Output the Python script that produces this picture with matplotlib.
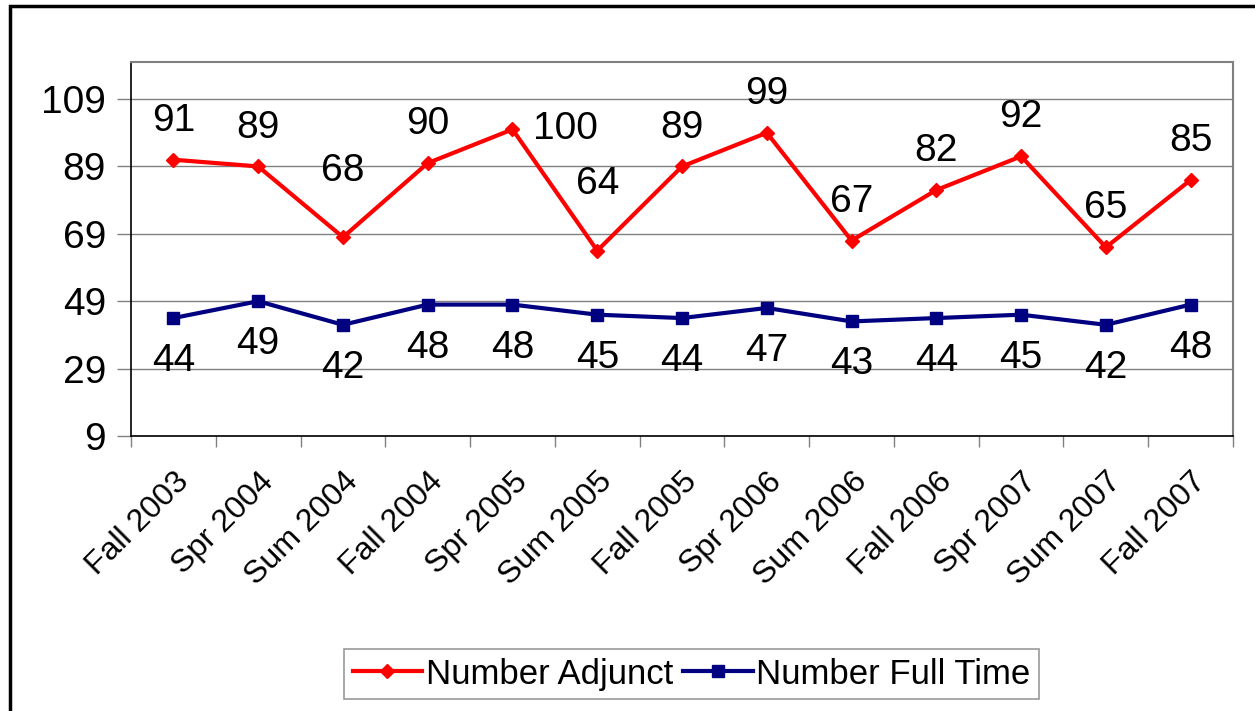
import matplotlib.pyplot as plt
import matplotlib.transforms as mtransforms
from matplotlib.patches import Rectangle

plt.rcParams['font.family'] = ['Liberation Sans', 'DejaVu Sans']

# terms and counts
terms = ['Fall 2003', 'Spr 2004', 'Sum 2004', 'Fall 2004', 'Spr 2005', 'Sum 2005',
         'Fall 2005', 'Spr 2006', 'Sum 2006', 'Fall 2006', 'Spr 2007', 'Sum 2007', 'Fall 2007']
adjunct = [91, 89, 68, 90, 100, 64, 89, 99, 67, 82, 92, 65, 85]
full_time = [44, 49, 42, 48, 48, 45, 44, 47, 43, 44, 45, 42, 48]
yticks = [9, 29, 49, 69, 89, 109]

fig = plt.figure(figsize=(12.55, 7.11), dpi=100)
ax = fig.add_axes([0.1044, 0.3868, 0.8781, 0.526])

x = list(range(len(terms)))
ax.plot(x, adjunct, color='#ff0000', lw=3, marker='D', ms=7, label='Number Adjunct')
ax.plot(x, full_time, color='#000080', lw=3, marker='s', ms=8, label='Number Full Time')

# data labels (adjunct above, full time below; a few placed by hand like the original)
adj_off = {2: (0, 48), 4: (38, 0), 5: (0, 48)}
for i, v in enumerate(adjunct):
    dx, dy = adj_off.get(i, (0, 28))
    ax.annotate(str(v), (i, v), xytext=(dx, dy), textcoords='offset points',
                ha='center', va='center', fontsize=28)
for i, v in enumerate(full_time):
    ax.annotate(str(v), (i, v), xytext=(0, -31), textcoords='offset points',
                ha='center', va='center', fontsize=28)

ax.set_xlim(-0.5, len(terms) - 0.5)
ax.set_ylim(9, 120)
ax.set_yticks(yticks)
ax.set_yticklabels([str(t) for t in yticks], fontsize=28)
ax.yaxis.grid(True, color='#808080', lw=1)
ax.set_axisbelow(True)

ax.set_xticks(x)
ax.set_xticklabels(terms, fontsize=23, rotation=45, ha='right', va='top',
                   rotation_mode='anchor')
shift = mtransforms.ScaledTranslation(-8 / 100, 0, fig.dpi_scale_trans)
for lab in ax.get_xticklabels():
    lab.set_transform(lab.get_transform() + shift)
ax.set_xticks([i - 0.5 for i in range(len(terms) + 1)], minor=True)
ax.tick_params(axis='x', which='major', length=0, pad=22)
ax.tick_params(axis='x', which='minor', length=8, width=1, color='#808080')
ax.tick_params(axis='y', length=10, width=1, color='#808080', pad=8)

for s in ['top', 'right']:
    ax.spines[s].set_color('#808080')
    ax.spines[s].set_linewidth(1.5)
for s in ['left', 'bottom']:
    ax.spines[s].set_color('black')
    ax.spines[s].set_linewidth(1.2)

leg = fig.legend(loc='center', bbox_to_anchor=(0.551, 0.052), ncol=2, fontsize=25,
                 frameon=True, fancybox=False, edgecolor='#808080', handlelength=2.0,
                 handletextpad=0.1, columnspacing=0.3, borderpad=0.25, borderaxespad=0)
leg.get_frame().set_linewidth(1.2)

# outer chart frame, cut off at the right and bottom edges of the picture
fig.patches.append(Rectangle((10 / 1255, -0.2), 1.2, 1.2 - 6 / 711,
                             transform=fig.transFigure, fill=False,
                             edgecolor='black', lw=2.5))

fig.savefig('out.png', dpi=100)
